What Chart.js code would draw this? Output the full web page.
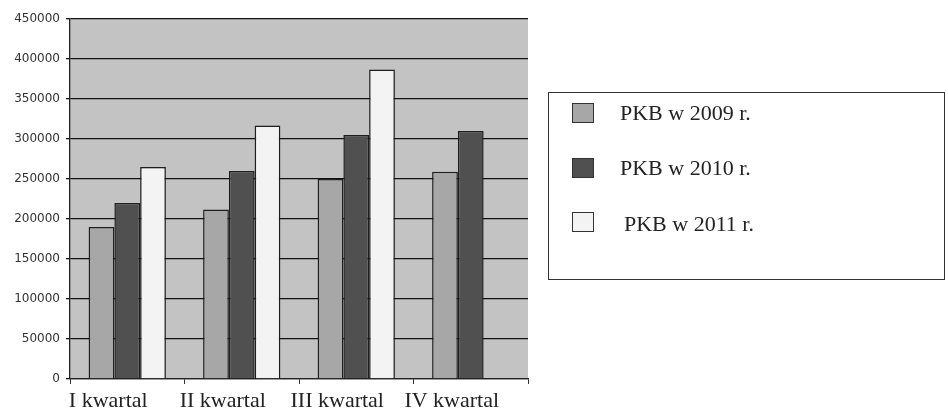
<!DOCTYPE html>
<html><head><meta charset="utf-8">
<script src="https://cdn.jsdelivr.net/npm/chart.js@4"></script>
<style>
html,body{margin:0;padding:0;background:#fff;}
#wrap{position:relative;width:948px;height:412px;}
canvas{position:absolute;left:0;top:0;}
#legend{position:absolute;left:548px;top:92px;width:397px;height:188px;border:1.5px solid #333;box-sizing:border-box;font-family:"Liberation Serif","Times New Roman",serif;font-size:22px;color:#222;}
.item{position:absolute;left:23px;height:21px;}
.sw{position:absolute;left:0;top:0;width:22px;height:20px;border:1.5px solid #333;box-sizing:border-box;}
.lb{position:absolute;left:48px;top:-3px;white-space:nowrap;line-height:26px;}
</style></head>
<body>
<div id="wrap"><canvas id="c" width="948" height="412"></canvas><div id="legend"></div></div>
<script>
const categories = ["I kwartal","II kwartal","III kwartal","IV kwartal"];
const seriesNames = ["PKB w 2009 r.","PKB w 2010 r.","PKB w 2011 r."];
const pkb2009 = [190000, 212000, 250000, 259000];
const pkb2010 = [220000, 260000, 305000, 310000];
const pkb2011 = [265000, 317000, 387000, null];
const yTicks = [0,50000,100000,150000,200000,250000,300000,350000,400000,450000];

const colors = ["#a7a7a7","#505050","#f3f3f3"];
const values = [pkb2009, pkb2010, pkb2011];

const bgPlugin = {
  id:'bg',
  beforeDraw(chart){
    const {ctx, chartArea:a} = chart;
    ctx.save();
    ctx.fillStyle = '#c3c3c3';
    ctx.fillRect(a.left, a.top, a.right-a.left, a.bottom-a.top);
    ctx.restore();
  }
};

new Chart(document.getElementById('c'), {
  type:'bar',
  data:{
    labels:categories,
    datasets: seriesNames.map((n,i)=>({
      label:n,
      data:values[i],
      backgroundColor:colors[i],
      borderColor:'#1e1e1e',
      borderWidth:1.5,
      borderSkipped:'bottom',
      categoryPercentage:0.675,
      barPercentage:1
    }))
  },
  plugins:[bgPlugin],
  options:{
    responsive:false,
    animation:false,
    layout:{padding:{top:19,right:420,left:0,bottom:0}},
    plugins:{legend:{display:false},tooltip:{enabled:false}},
    scales:{
      y:{
        min:0,max:450000,
        afterBuildTicks(s){ s.ticks = yTicks.map(v=>({value:v})); },
        afterFit(s){ s.width = 70; },
        grid:{color:'#111',lineWidth:1.3,tickLength:4,drawTicks:true},
        border:{display:true,color:'#222',width:1.3},
        ticks:{color:'#333',font:{family:'"DejaVu Sans", sans-serif',size:12},padding:6,
               callback:(v)=>String(v)}
      },
      x:{
        afterFit(s){ s.height = 33; },
        grid:{display:true,drawOnChartArea:false,color:'#333',tickLength:5,offset:true},
        border:{display:true,color:'#222',width:1.3},
        ticks:{color:'#222',font:{family:'"Liberation Serif","Times New Roman",serif',size:22},padding:4,labelOffset:-19}
      }
    }
  }
});

const lg = document.getElementById('legend');
const tops = [10, 65, 119];
seriesNames.forEach((n,i)=>{
  const it = document.createElement('div');
  it.className='item'; it.style.top = tops[i]+'px';
  const sw = document.createElement('div'); sw.className='sw'; sw.style.background=colors[i];
  const lb = document.createElement('div'); lb.className='lb'; lb.textContent=n;
  if(i===2){ lb.style.left='52px'; lb.style.top='-1px'; }
  it.appendChild(sw); it.appendChild(lb); lg.appendChild(it);
});
</script>
</body></html>
